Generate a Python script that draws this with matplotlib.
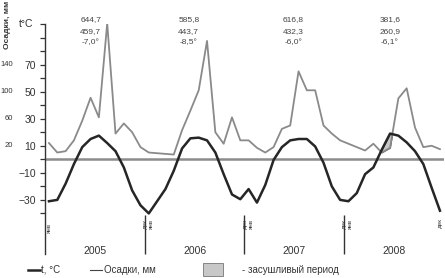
import matplotlib
matplotlib.use("Agg")
import matplotlib.pyplot as plt
from matplotlib.lines import Line2D
from matplotlib.patches import Rectangle
import numpy as np

plt.rcParams["font.family"] = ["Liberation Sans", "DejaVu Sans"]

# monthly data, Jan 2005 .. Dec 2008
temp = [-31, -30, -18, -3.5, 9, 15, 17.5, 12, 6, -6, -23, -34,
        -40, -31, -22, -8.5, 8, 15.5, 16, 14, 5, -11, -26, -29.5,
        -22, -32, -19, -0.5, 9, 14, 15, 15, 9.5, -2.5, -20, -30,
        -31, -25, -11, -6, 7, 19, 17.5, 12.5, 6, -3.5, -21, -38]
precip = [24, 10, 12, 28, 57, 91, 62, 201, 38, 53, 40, 18,
          10, 9, 8, 7, 43, 72, 102, 175, 40, 23, 62, 28,
          28, 17, 10, 18, 45, 50, 130, 102, 102, 50, 38, 28,
          23, 18, 13, 23, 10, 17, 90, 105, 47, 18, 20, 15]
years = ["2005", "2006", "2007", "2008"]
annot = [["644,7", "459,7", "-7,0°"],
         ["585,8", "443,7", "-8,5°"],
         ["616,8", "432,3", "-6,0°"],
         ["381,6", "260,9", "-6,1°"]]
annot_x = [5.0, 16.8, 29.4, 41.0]
temp_ticks = [-30, -10, 10, 30, 50, 70]

t = np.array(temp, dtype=float)
p = np.array(precip, dtype=float) / 2.0  # 2 mm per 1 degree
x = np.arange(len(t))

fig = plt.figure(figsize=(4.45, 2.78), dpi=100)
ax = fig.add_axes([0.1007, 0.0863, 0.8973, 0.8274])
ax.set_xlim(-0.5, 47.5)
ax.set_ylim(-70, 100)

for s in ["top", "right", "bottom"]:
    ax.spines[s].set_visible(False)
ax.spines["left"].set_color("#333333")
ax.spines["left"].set_linewidth(1.0)

ax.set_xticks([])
ax.set_yticks(temp_ticks)
ax.set_yticks(np.arange(-40, 101, 10), minor=True)
ax.tick_params(axis="y", which="both", length=3.5, width=0.9, color="#333333")
ax.tick_params(axis="y", labelsize=7.5, labelcolor="#333333", pad=3)

ytr = ax.get_yaxis_transform()
for v in temp_ticks[2:]:
    ax.text(-0.080, v, str(2 * v), transform=ytr, ha="right", va="center",
            fontsize=5.5, color="#333333")
ax.text(-0.028, 100, "t°C", transform=ytr, ha="right", va="center",
        fontsize=7.5, color="#333333")
fig.text(0.016, 0.91, "Осадки, мм", rotation=90, ha="center", va="center",
         fontsize=6, fontweight="bold", color="#333333")

ax.axhline(0, color="#8c8c8c", lw=1.8, zorder=1)
ax.fill_between(x, t, p, where=t > p, interpolate=True,
                facecolor="#c8c8c8", edgecolor="#555555", lw=0.6, zorder=2)
ax.plot(x, p, color="#8a8a8a", lw=1.3, zorder=3)
ax.plot(x, t, color="#262626", lw=1.8, zorder=4)

for k, yr in enumerate(years):
    ax.text(5.5 + 12 * k, -68, yr, ha="center", va="center", fontsize=7.5,
            color="#333333")
    for j, s in enumerate(annot[k]):
        ax.text(annot_x[k], 103 - 8.3 * j, s, ha="center", va="center",
                fontsize=6, color="#444444", clip_on=False)

for sep in [11.5, 23.5, 35.5]:
    ax.vlines(sep, -70, -41, color="#333333", lw=1.0, clip_on=False)
    ax.text(sep + 0.05, -48, "дек", rotation=90, ha="center", va="center",
            fontsize=4.5, color="#333333")
    ax.text(sep + 0.8, -48, "янв", rotation=90, ha="center", va="center",
            fontsize=4.5, color="#333333")
ax.text(0.05, -51, "янв", rotation=90, ha="center", va="center",
        fontsize=4.5, color="#333333")
ax.text(47.05, -47, "дек", rotation=90, ha="center", va="center",
        fontsize=4.5, color="#333333", clip_on=False)

# legend row
W, H = 445.0, 278.0
ly = 1 - 270 / H
fig.add_artist(Line2D([28 / W, 40 / W], [ly, ly], color="#262626", lw=1.8))
fig.text(41 / W, ly, "t, °C", ha="left", va="center", fontsize=7, color="#333333")
fig.add_artist(Line2D([90 / W, 102 / W], [ly, ly], color="#444444", lw=0.8))
fig.text(104 / W, ly, "Осадки, мм", ha="left", va="center", fontsize=7,
         color="#333333")
fig.add_artist(Rectangle((203 / W, 1 - 276 / H), 20 / W, 13 / H,
                         facecolor="#c8c8c8", edgecolor="#777777", lw=0.6,
                         transform=fig.transFigure))
fig.text(242 / W, ly, "- засушливый период", ha="left", va="center",
         fontsize=7, color="#333333")

fig.savefig("out.png", dpi=100)
